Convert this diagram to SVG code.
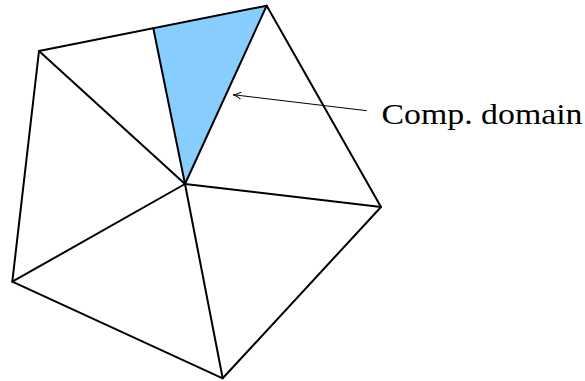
<svg xmlns="http://www.w3.org/2000/svg" width="585" height="381" viewBox="0 0 585 381">
<style>
.e{stroke:#000;stroke-width:2;fill:none;stroke-linejoin:round;stroke-linecap:round}
.lbl{font-family:"Liberation Serif","DejaVu Serif",serif;font-size:29px;fill:#000}
</style>
<defs>
<marker id="ah" markerWidth="10" markerHeight="8" refX="9" refY="4" orient="auto" markerUnits="userSpaceOnUse">
<path d="M1,0.5 Q5,3.5 9,4 Q5,4.5 1,7.5" fill="none" stroke="#000" stroke-width="1"/>
</marker>
</defs>
<rect width="585" height="381" fill="#fff"/>
<g id="domain">
<polygon points="153.3,28.3 266.7,5.7 185,184" fill="#87CEFF"/>
</g>
<g id="mesh">
<polygon class="e" points="39,51 266.7,5.7 381,207 222.7,378.3 12.3,281.7"/>
</g>
<g id="connectors">
<line class="e" x1="185" y1="184" x2="39" y2="51"/>
<line class="e" x1="185" y1="184" x2="153.3" y2="28.3"/>
<line class="e" x1="185" y1="184" x2="266.7" y2="5.7"/>
<line class="e" x1="185" y1="184" x2="381" y2="207"/>
<line class="e" x1="185" y1="184" x2="222.7" y2="378.3"/>
<line class="e" x1="185" y1="184" x2="12.3" y2="281.7"/>
<line x1="366.7" y1="110.7" x2="233" y2="94.7" stroke="#000" stroke-width="1" marker-end="url(#ah)"/>
</g>
<g id="label">
<text class="lbl" x="381.5" y="123.5" textLength="201" lengthAdjust="spacingAndGlyphs">Comp. domain</text>
</g>
</svg>
